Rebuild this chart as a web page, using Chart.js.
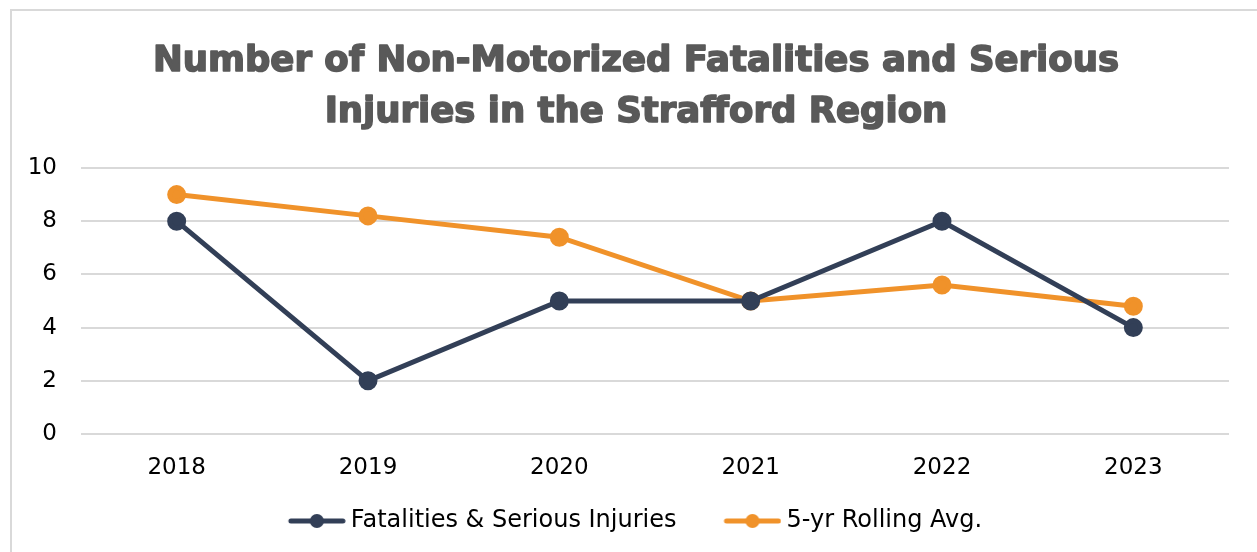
<!DOCTYPE html>
<html>
<head>
<meta charset="utf-8">
<script src="https://cdn.jsdelivr.net/npm/chart.js@4.4.1/dist/chart.umd.min.js"></script>
<style>
  html, body { margin: 0; padding: 0; background: #fff; overflow: hidden; }
  #wrap { position: relative; width: 1257px; height: 552px; }
  #frame { position: absolute; left: 10px; top: 9px; width: 1260px; height: 560px; border: 2px solid #d9d9d9; pointer-events: none; }
</style>
</head>
<body>
<div id="wrap">
  <canvas id="chart" width="1257" height="552"></canvas>
  <div id="frame"></div>
</div>
<script>
const YEARS = ["2018", "2019", "2020", "2021", "2022", "2023"];
const FATAL_SERIOUS = [8, 2, 5, 5, 8, 4];
const ROLLING_AVG = [9, 8.2, 7.4, 5, 5.6, 4.8];
const TITLE_LINES = ["Number of Non-Motorized Fatalities and Serious", "Injuries in the Strafford Region"];

const NAVY = "#323f57";
const ORANGE = "#f0922a";

// legend box is wider than the marker; marker sits at its right end so the text follows closely
const MARK_W = 58, MARK_LEAD = 30;
function legendMarker(color) {
  const c = document.createElement("canvas");
  c.width = MARK_W + MARK_LEAD + 14; c.height = 16;
  const g = c.getContext("2d");
  const x0 = MARK_LEAD + 14;
  g.strokeStyle = color; g.lineWidth = 5; g.lineCap = "round";
  g.beginPath(); g.moveTo(x0 + 3, 8); g.lineTo(x0 + MARK_W - 3, 8); g.stroke();
  g.fillStyle = color;
  g.beginPath(); g.arc(x0 + MARK_W / 2, 8, 7, 0, Math.PI * 2); g.fill();
  return c;
}

// heavy two-line title, drawn by hand so it can be stroked for weight
const heavyTitle = {
  id: "heavyTitle",
  afterDraw(chart) {
    const g = chart.ctx;
    g.save();
    g.font = "bold 35.5px 'DejaVu Sans'";
    g.fillStyle = "#595959";
    g.strokeStyle = "#595959";
    g.lineWidth = 1.6;
    g.lineJoin = "round";
    g.textAlign = "center";
    g.textBaseline = "alphabetic";
    const cx = 636;
    TITLE_LINES.forEach((t, i) => {
      const y = 71 + i * 51;
      g.fillText(t, cx, y);
      g.strokeText(t, cx, y);
    });
    g.restore();
  }
};

const ctx = document.getElementById("chart").getContext("2d");
new Chart(ctx, {
  type: "line",
  data: {
    labels: YEARS,
    datasets: [
      {
        label: "Fatalities & Serious Injuries",
        data: FATAL_SERIOUS,
        borderColor: NAVY, backgroundColor: NAVY,
        borderWidth: 5, pointRadius: 7, pointHoverRadius: 7, tension: 0
      },
      {
        label: "5-yr Rolling Avg.",
        data: ROLLING_AVG,
        borderColor: ORANGE, backgroundColor: ORANGE,
        borderWidth: 5, pointRadius: 7, pointHoverRadius: 7, tension: 0
      }
    ]
  },
  options: {
    responsive: false,
    animation: false,
    layout: { padding: { left: 4, right: 28, top: 168, bottom: 9 } },
    scales: {
      x: {
        offset: true,
        grid: { display: false },
        border: { display: false },
        ticks: { color: "#000", padding: 12, font: { family: "DejaVu Sans", size: 23 } },
        afterFit: (s) => { s.height = 65; }
      },
      y: {
        min: 0, max: 10,
        grid: { color: "#d9d9d9", lineWidth: 2, drawTicks: false },
        border: { display: false },
        ticks: { stepSize: 2, color: "#000", padding: 24, font: { family: "DejaVu Sans", size: 23 } },
        afterFit: (s) => { s.width = 77; }
      }
    },
    plugins: {
      title: { display: false },
      legend: {
        position: "bottom",
        labels: {
          color: "#000",
          font: { family: "DejaVu Sans", size: 24 },
          usePointStyle: true,
          pointStyleWidth: MARK_W + MARK_LEAD,
          boxHeight: 16,
          padding: 10,
          generateLabels: (chart) => chart.data.datasets.map((ds, i) => ({
            text: ds.label,
            pointStyle: legendMarker(ds.borderColor),
            fillStyle: ds.borderColor,
            strokeStyle: ds.borderColor,
            lineWidth: 0,
            datasetIndex: i,
            fontColor: "#000"
          }))
        }
      },
      tooltip: { enabled: false }
    }
  },
  plugins: [heavyTitle]
});
</script>
</body>
</html>
